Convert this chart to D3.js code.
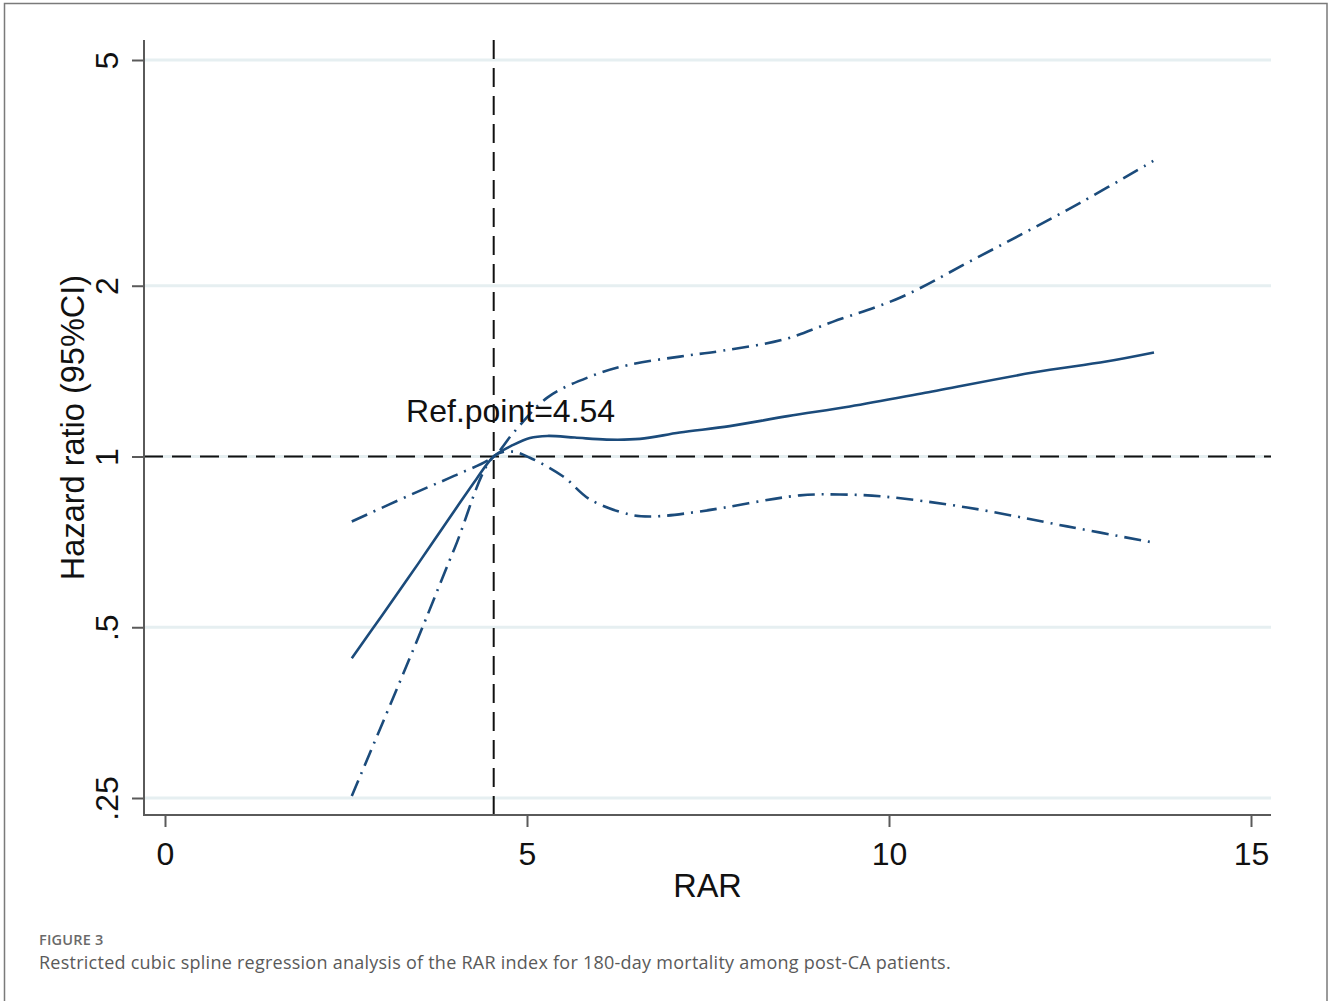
<!DOCTYPE html>
<html lang="en">
<head>
    <meta charset="UTF-8">
    <title>Restricted cubic spline - RAR</title>
    <style>
        html, body {
            margin: 0;
            padding: 0;
            background-color: #ffffff;
        }
        svg text.plot {
            font-family: 'Liberation Sans', Arial, sans-serif;
            fill: #111111;
        }
        svg text.caption {
            font-family: 'Open Sans', 'Noto Sans', sans-serif;
        }
    </style>
</head>
<body>
    <div id="graph"></div>
    <script src="https://d3js.org/d3.v7.min.js"></script>
    <script>
        // DATA
        const rar = [2.58, 3.0, 3.5, 4.0, 4.3, 4.54, 4.81, 5.04, 5.28, 5.66, 6.1, 6.56, 7.11, 7.8, 8.6, 9.46, 10.5, 11.99, 13.0, 13.66];
        const hr = [0.441, 0.525, 0.648, 0.803, 0.912, 1.0, 1.048, 1.078, 1.087, 1.08, 1.071, 1.074, 1.102, 1.131, 1.178, 1.225, 1.295, 1.406, 1.47, 1.525];

        const upperX = [2.58, 3.5, 4.0, 4.54, 4.81, 5.28, 5.87, 6.42, 7.11, 7.71, 8.54, 9.23, 10.15, 11.16, 12.64, 13.65];
        const upperHr = [0.768, 0.868, 0.925, 1.0, 1.1, 1.27, 1.383, 1.452, 1.5, 1.537, 1.607, 1.729, 1.905, 2.222, 2.8, 3.32];

        const lowerX = [2.58, 3.5, 4.0, 4.54, 4.8, 5.04, 5.5, 5.87, 6.42, 6.74, 7.39, 8.77, 9.32, 9.92, 11.08, 12.46, 13.63];
        const lowerHr = [0.252, 0.48, 0.689, 1.0, 1.02, 0.995, 0.922, 0.84, 0.79, 0.784, 0.8, 0.854, 0.857, 0.85, 0.813, 0.753, 0.706];

        const refPoint = 4.54;
        const refHr = 1;
        const refLabel = "Ref.point=4.54";
        const refLabelPos = [3.33, 1.152];

        const xTicks = [0, 5, 10, 15];
        const yTicks = [0.25, 0.5, 1, 2, 5];
        const yTickLabels = [".25", ".5", "1", "2", "5"];

        const xTitle = "RAR";
        const yTitle = "Hazard ratio (95%CI)";
        const figLabel = "FIGURE 3";
        const figCaption = "Restricted cubic spline regression analysis of the RAR index for 180-day mortality among post-CA patients.";

        // LAYOUT
        const W = 1328, H = 1001;
        const plot = {left: 144, right: 1271, top: 40, bottom: 815};
        const navy = "#1b4b7b";

        const svg = d3.select("#graph")
            .append("svg")
            .attr("width", W)
            .attr("height", H);

        // FRAME
        svg.append("rect")
            .attr("x", 4.5)
            .attr("y", 3.5)
            .attr("width", 1322.5)
            .attr("height", 1010)
            .attr("fill", "none")
            .attr("stroke", "#7a7a7a")
            .attr("stroke-width", 1.5);

        // SCALES
        const x = d3.scaleLinear().domain([0, 15]).range([165, 1251]);
        const y = d3.scaleLog().domain([0.25, 5]).range([798, 60]);

        // GRID LINES
        svg.append("g")
            .selectAll("line")
            .data(yTicks).enter()
            .append("line")
            .attr("x1", plot.left + 1)
            .attr("x2", plot.right)
            .attr("y1", d => y(d))
            .attr("y2", d => y(d))
            .attr("stroke", "#e6eff1")
            .attr("stroke-width", 3);

        // REFERENCE LINES
        svg.append("line")
            .attr("x1", plot.left)
            .attr("x2", plot.right)
            .attr("y1", y(refHr))
            .attr("y2", y(refHr))
            .attr("stroke", "#111")
            .attr("stroke-width", 2)
            .attr("stroke-dasharray", "19,9");

        svg.append("line")
            .attr("x1", x(refPoint))
            .attr("x2", x(refPoint))
            .attr("y1", plot.top)
            .attr("y2", plot.bottom)
            .attr("stroke", "#111")
            .attr("stroke-width", 2)
            .attr("stroke-dasharray", "19,9");

        // CURVES
        const line = d3.line()
            .x(d => x(d[0]))
            .y(d => y(d[1]))
            .curve(d3.curveCatmullRom.alpha(0.5));

        const series = [
            {pts: d3.zip(upperX, upperHr), dash: "17,7,2,7"},
            {pts: d3.zip(lowerX, lowerHr), dash: "17,7,2,7"},
            {pts: d3.zip(rar, hr), dash: null}
        ];

        svg.append("g")
            .selectAll("path")
            .data(series).enter()
            .append("path")
            .attr("d", d => line(d.pts))
            .attr("fill", "none")
            .attr("stroke", navy)
            .attr("stroke-width", 2.6)
            .attr("stroke-dasharray", d => d.dash);

        // AXIS LINES
        svg.append("line")
            .attr("x1", plot.left)
            .attr("x2", plot.left)
            .attr("y1", plot.top)
            .attr("y2", plot.bottom + 1)
            .attr("stroke", "#5a5a5a")
            .attr("stroke-width", 2);

        svg.append("line")
            .attr("x1", plot.left)
            .attr("x2", plot.right)
            .attr("y1", plot.bottom)
            .attr("y2", plot.bottom)
            .attr("stroke", "#5a5a5a")
            .attr("stroke-width", 2);

        // X AXIS
        const xAxis = d3.axisBottom(x)
            .tickValues(xTicks)
            .tickSize(12)
            .tickFormat(d3.format("d"));

        const gx = svg.append("g")
            .attr("transform", `translate(0, ${plot.bottom})`)
            .call(xAxis);
        gx.select(".domain").remove();
        gx.selectAll("line").attr("stroke", "#5a5a5a").attr("stroke-width", 2);
        gx.selectAll("text")
            .attr("class", "plot")
            .attr("dy", null)
            .attr("y", 50)
            .style("font-size", "32px");

        // Y AXIS
        const yAxis = d3.axisLeft(y)
            .tickValues(yTicks)
            .tickSize(12)
            .tickFormat((d, i) => yTickLabels[i]);

        const gy = svg.append("g")
            .attr("transform", `translate(${plot.left}, 0)`)
            .call(yAxis);
        gy.select(".domain").remove();
        gy.selectAll("line").attr("stroke", "#5a5a5a").attr("stroke-width", 2);
        gy.selectAll("text")
            .attr("class", "plot")
            .attr("x", 0)
            .attr("y", -26)
            .attr("dy", null)
            .attr("text-anchor", "middle")
            .attr("transform", "rotate(-90)")
            .style("font-size", "32px");

        // AXIS TITLES
        svg.append("text")
            .attr("class", "plot")
            .attr("x", (plot.left + plot.right) / 2)
            .attr("y", 897)
            .attr("text-anchor", "middle")
            .style("font-size", "32.5px")
            .text(xTitle);

        svg.append("text")
            .attr("class", "plot")
            .attr("transform", `translate(84, ${(plot.top + plot.bottom) / 2}) rotate(-90)`)
            .attr("text-anchor", "middle")
            .style("font-size", "32.5px")
            .text(yTitle);

        // REF POINT LABEL
        svg.append("text")
            .attr("class", "plot")
            .attr("x", x(refLabelPos[0]))
            .attr("y", y(refLabelPos[1]))
            .style("font-size", "32px")
            .text(refLabel);

        // CAPTION
        svg.append("text")
            .attr("class", "caption")
            .attr("x", 39)
            .attr("y", 945)
            .attr("fill", "#6a6a6a")
            .style("font-size", "14.5px")
            .style("letter-spacing", "0.2px")
            .style("font-weight", 600)
            .text(figLabel);

        svg.append("text")
            .attr("class", "caption")
            .attr("x", 39)
            .attr("y", 969)
            .attr("fill", "#5a5a5a")
            .style("font-size", "18px")
            .style("letter-spacing", "0.25px")
            .text(figCaption);
    </script>
</body>
</html>
